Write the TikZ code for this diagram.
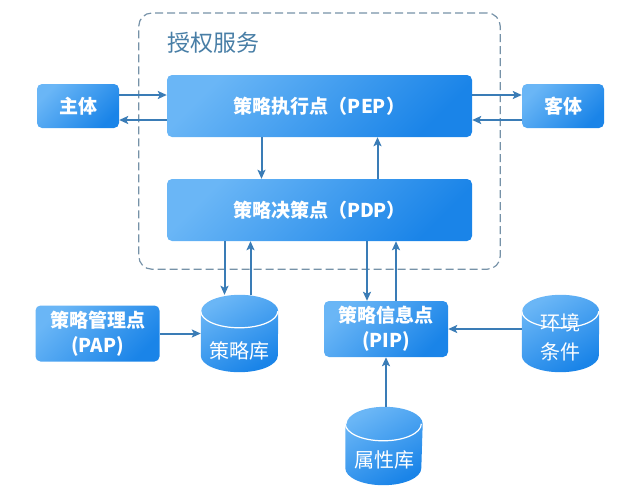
\documentclass[tikz,border=0pt]{standalone}
\usepackage{fontspec}
\setmainfont{Noto Sans CJK SC}
\usetikzlibrary{shapes,arrows.meta,fit}
\definecolor{boxlight}{RGB}{106,182,246}
\definecolor{boxdark}{RGB}{26,132,232}
\definecolor{linkblue}{RGB}{58,124,182}
\definecolor{framegray}{RGB}{118,146,168}
\definecolor{titleblue}{RGB}{72,126,166}
\tikzstyle{line} = [draw=linkblue, line width=2pt, -{Stealth[length=9pt,width=8pt,inset=2pt]}]
\tikzstyle{block} = [rectangle, rounded corners=5pt, top color=boxlight, bottom color=boxdark, shading angle=45, text=white, font=\fontsize{19}{25}\selectfont\bfseries, align=center, inner sep=0pt]
\tikzstyle{small block} = [block, minimum width=82pt, minimum height=44pt]
\tikzstyle{wide block} = [block, minimum width=305pt, minimum height=62pt]
\tikzstyle{point block} = [block, minimum width=124pt, minimum height=56pt]
\tikzstyle{dbspot} = [rectangle, minimum width=77pt, minimum height=77pt, inner sep=0pt]
\tikzstyle{dblabel} = [text=white, font=\fontsize{20}{29}\selectfont, align=center, inner sep=0pt]
% cylinder drawn round a dbspot node: node, x radius, y radius
\newcommand{\drawdb}[3]{%
  \shade[top color=boxlight, bottom color=boxdark, shading angle=30]
    ([yshift=-#3]#1.north west) -- ([yshift=#3]#1.south west)
    arc[start angle=180, end angle=360, x radius=#2, y radius=#3]
    -- ([yshift=-#3]#1.north east)
    arc[start angle=0, end angle=180, x radius=#2, y radius=#3] -- cycle;
  \draw[white, line width=1.2pt] ([yshift=-#3]#1.north west)
    arc[start angle=180, end angle=360, x radius=#2, y radius=#3];
}

\begin{document}
\begin{tikzpicture}[x=1pt, y=-1pt, node distance=104pt, auto]
	\useasboundingbox (0,0) rectangle (640,488);
	\tikzset{service frame/.style={draw=framegray, line width=1.2pt, dash pattern=on 8pt off 4pt, inner sep=28pt, rectangle, rounded corners=13pt}};
	\node [wide block] (pep) at (319.5,106) {策略执行点（PEP）};
	\node [wide block, below of=pep] (pdp) {策略决策点（PDP）};
	\node [small block, left of=pep, node distance=241.5pt] (subject) {主体};
	\node [small block, right of=pep, node distance=243.5pt] (object) {客体};
	\coordinate (frametop) at (319.5,41);
	\node [service frame, fit=(frametop) (pep) (pdp)] (service) {};
	\node [anchor=west, text=titleblue, font=\fontsize{23}{23}\selectfont, inner sep=0pt] (servicetitle) at ([xshift=29pt,yshift=-30pt]service.north west) {授权服务};
	% data stores
	\node [dbspot] (policydb) at (239.5,333.5) {};
	\node [dbspot, right of=policydb, node distance=321pt] (envdb) {};
	\node [dbspot, minimum height=78pt] (attrdb) at (384,446) {};
	\drawdb{policydb}{38.5pt}{16.5pt}
	\drawdb{envdb}{38.5pt}{16.5pt}
	\drawdb{attrdb}{38pt}{17pt}
	\node [dblabel] (policydbtext) at ([yshift=-17pt]policydb.center) {策略库};
	\node [dblabel] (envdbtext) at ([yshift=-4pt]envdb.center) {环境\\条件};
	\node [dblabel] (attrdbtext) at ([yshift=-14pt]attrdb.center) {属性库};
	\node [point block, left of=policydb, node distance=142pt] (pap) {策略管理点\\(PAP)};
	\node [point block] (pip) at (386,329) {策略信息点\\(PIP)};
	% connectors
	\path [line] ([yshift=11pt]subject.east) -- ([yshift=11pt]subject.east -| pep.west);
	\path [line] ([yshift=-14pt]subject.east -| pep.west) -- ([yshift=-14pt]subject.east);
	\path [line] ([yshift=11pt]object.west -| pep.east) -- ([yshift=11pt]object.west);
	\path [line] ([yshift=-14pt]object.west) -- ([yshift=-14pt]object.west -| pep.east);
	\path [line] ([xshift=-58pt]pep.south) -- ([xshift=-58pt]pdp.north);
	\path [line] ([xshift=58pt]pdp.north) -- ([xshift=58pt]pep.south);
	\path [line] ([xshift=-15pt]policydb.north |- pdp.south) -- ([xshift=-15pt]policydb.north);
	\path [line] ([xshift=11pt]policydb.north) -- ([xshift=11pt]policydb.north |- pdp.south);
	\path [line] ([xshift=-19pt]pip.north |- pdp.south) -- ([xshift=-19pt]pip.north);
	\path [line] ([xshift=10pt]pip.north) -- ([xshift=10pt]pip.north |- pdp.south);
	\path [line] (pap.east) -- (pap.east -| policydb.west);
	\path [line] (pip.east -| envdb.west) -- (pip.east);
	\path [line] (pip.south |- attrdb.north) -- (pip.south);
\end{tikzpicture}
\end{document}
